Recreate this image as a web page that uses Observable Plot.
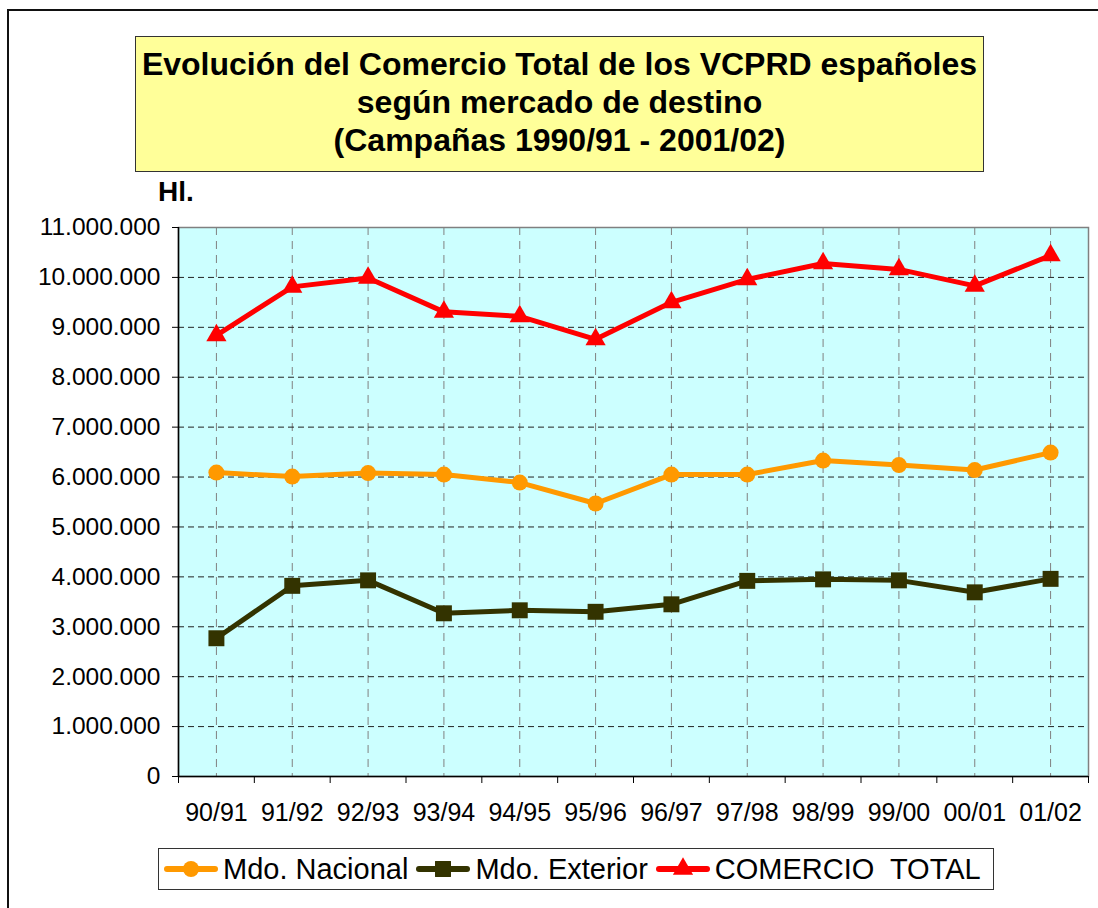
<!DOCTYPE html>
<html><head><meta charset="utf-8">
<script src="https://cdn.jsdelivr.net/npm/d3@7"></script>
<script src="https://cdn.jsdelivr.net/npm/@observablehq/plot@0.6"></script>
<style>
html,body{margin:0;padding:0}
body{width:1098px;height:908px;overflow:hidden;background:#fff;font-family:"Liberation Sans",Arial,sans-serif;position:relative;color:#000}
#outer{position:absolute;left:7px;top:9px;width:1200px;height:1000px;border-left:2px solid #111;border-top:2px solid #111}
#title{position:absolute;left:135px;top:36px;width:849px;height:136px;background:#FFFF99;border:1px solid #333;box-sizing:border-box;text-align:center;font-weight:bold;font-size:32px;line-height:38px;padding-top:8px}
#unit{position:absolute;left:158px;top:178px;font-weight:bold;font-size:28px;line-height:28px}
#chart{position:absolute;left:0;top:200px}
#legend{position:absolute;left:158px;top:848px;width:836px;height:42px;border:1px solid #333;box-sizing:border-box;display:flex;align-items:center;font-size:29px;line-height:40px;padding-left:5px;white-space:pre}
#legend .it{display:flex;align-items:center;margin-right:8px}
#legend svg{margin-right:5px;display:block}
</style>
</head><body>
<div id="outer"></div>
<div id="title">Evolución del Comercio Total de los VCPRD españoles<br>según mercado de destino<br>(Campañas 1990/91 - 2001/02)</div>
<div id="unit">Hl.</div>
<div id="chart"></div>
<div id="legend"></div>
<script>
const campaigns = ["90/91","91/92","92/93","93/94","94/95","95/96","96/97","97/98","98/99","99/00","00/01","01/02"];
const nacional = [6090000, 6010000, 6080000, 6050000, 5890000, 5470000, 6050000, 6050000, 6330000, 6240000, 6140000, 6490000];
const exterior = [2770000, 3820000, 3930000, 3270000, 3330000, 3300000, 3450000, 3920000, 3950000, 3930000, 3690000, 3960000];
const total    = [8840000, 9810000, 9990000, 9310000, 9220000, 8760000, 9500000, 9960000, 10280000, 10160000, 9830000, 10440000];
const yTicks = [0,1000000,2000000,3000000,4000000,5000000,6000000,7000000,8000000,9000000,10000000,11000000];
const seriesNames = ["Mdo. Nacional","Mdo. Exterior","COMERCIO  TOTAL"];
const seriesColors = ["#FF9900","#333300","#FF0000"];
const seriesSymbols = ["circle","square","triangle"];
const seriesValues = [nacional, exterior, total];

const W = 1098, ML = 178, MR = 10, MT = 27, MB = 64, H = 640;
const step = (W - ML - MR) / campaigns.length;
const fmt = d3.formatLocale({decimal: ",", thousands: ".", grouping: [3], currency: ["", ""]}).format(",d");
const symR = {circle: 8, square: 9, triangle: 7.5};

const seriesMarks = seriesNames.flatMap((name, s) => {
  const rows = campaigns.map((c, i) => ({c, v: seriesValues[s][i]}));
  return [
    Plot.line(rows, {x: "c", y: "v", stroke: seriesColors[s], strokeWidth: 5, strokeLinejoin: "round", strokeLinecap: "round"}),
    Plot.dot(rows, {x: "c", y: "v", fill: seriesColors[s], stroke: "none", symbol: seriesSymbols[s], r: symR[seriesSymbols[s]]})
  ];
});

const chart = Plot.plot({
  width: W, height: H,
  marginLeft: ML, marginRight: MR, marginTop: MT, marginBottom: MB,
  style: {fontFamily: '"Liberation Sans", Arial, sans-serif', fontSize: "24.5px", color: "#000", background: "transparent", overflow: "visible"},
  x: {type: "point", domain: campaigns, padding: 0.5, round: false},
  y: {domain: [0, 11000000]},
  marks: [
    Plot.frame({fill: "#CCFFFF", stroke: "#808080", strokeWidth: 1.5}),
    Plot.gridX(campaigns, {stroke: "#808080", strokeOpacity: 1, strokeDasharray: "8,6"}),
    Plot.gridY(yTicks.slice(1, -1), {stroke: "#222", strokeOpacity: 1, strokeDasharray: "6,4"}),
    Plot.ruleY([0], {stroke: "#000", strokeWidth: 1.5}),
    Plot.ruleX([campaigns[0]], {dx: -step / 2, stroke: "#000", strokeWidth: 1.5}),
    Plot.axisY(yTicks, {tickFormat: fmt, tickSize: 6, tickPadding: 12, label: null, fontSize: 24.5}),
    Plot.axisX(campaigns, {tickSize: 0, tickPadding: 27, label: null, fontSize: 25}),
    Plot.axisX(campaigns, {tickSize: 7, text: null, label: null, dx: -step / 2}),
    Plot.axisX([campaigns[campaigns.length - 1]], {tickSize: 7, text: null, label: null, dx: step / 2}),
    ...seriesMarks
  ]
});
document.getElementById("chart").appendChild(chart);

// legend
const legend = document.getElementById("legend");
seriesNames.forEach((name, s) => {
  const it = document.createElement("div");
  it.className = "it";
  const ns = "http://www.w3.org/2000/svg";
  const svg = document.createElementNS(ns, "svg");
  svg.setAttribute("width", 54); svg.setAttribute("height", 30);
  const ln = document.createElementNS(ns, "line");
  ln.setAttribute("x1", 3); ln.setAttribute("x2", 51); ln.setAttribute("y1", 15); ln.setAttribute("y2", 15);
  ln.setAttribute("stroke", seriesColors[s]); ln.setAttribute("stroke-width", 6); ln.setAttribute("stroke-linecap", "round");
  svg.appendChild(ln);
  const p = document.createElementNS(ns, "path");
  const sym = {circle: d3.symbolCircle, square: d3.symbolSquare, triangle: d3.symbolTriangle}[seriesSymbols[s]];
  const r = symR[seriesSymbols[s]];
  p.setAttribute("d", d3.symbol(sym, Math.PI * r * r)());
  p.setAttribute("transform", "translate(27,15)");
  p.setAttribute("fill", seriesColors[s]);
  svg.appendChild(p);
  it.appendChild(svg);
  const t = document.createElement("span");
  t.textContent = name;
  it.appendChild(t);
  legend.appendChild(it);
});
</script>
</body></html>
